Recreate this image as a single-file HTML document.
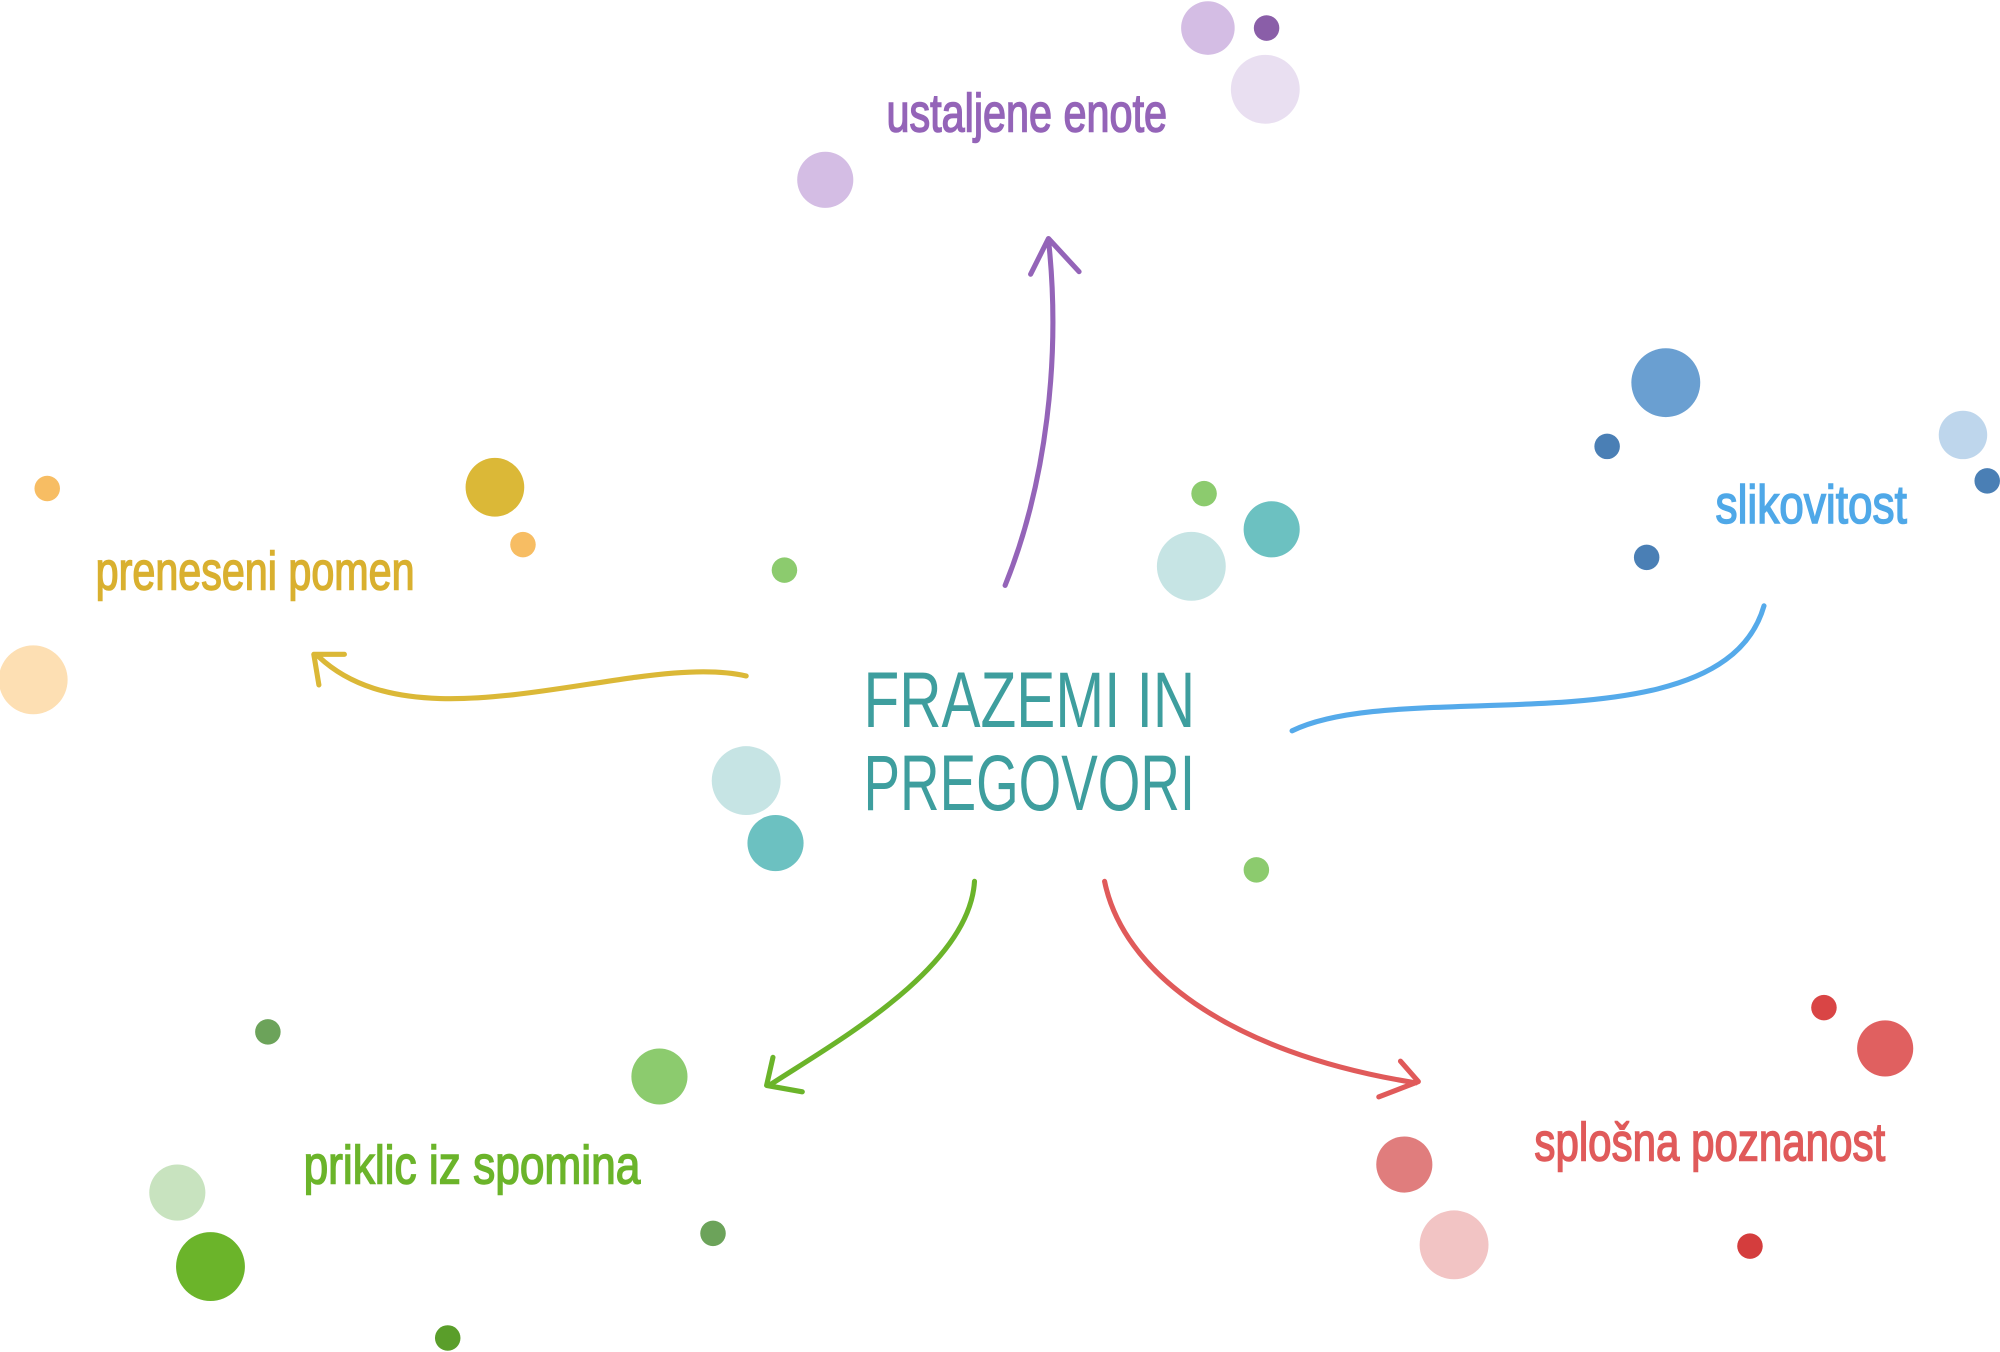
<!DOCTYPE html>
<html><head><meta charset="utf-8"><style>
html,body{margin:0;padding:0;background:#fff;}
svg{display:block;}
text{font-family:"Liberation Sans Narrow","Liberation Sans",sans-serif;}
.l{stroke-width:1.2;}
</style></head><body>
<svg width="2000" height="1352" viewBox="0 0 1568 1060" xmlns="http://www.w3.org/2000/svg">
<g>
<circle cx="947" cy="22" r="21" fill="#d4bde4"/>
<circle cx="993" cy="22" r="10" fill="#8a5ea8"/>
<circle cx="992" cy="70" r="27" fill="#e9dff1"/>
<circle cx="647" cy="141" r="22" fill="#d4bde4"/>
<circle cx="37" cy="383" r="10" fill="#f7bd63"/>
<circle cx="388" cy="382" r="23" fill="#dbb837"/>
<circle cx="410" cy="427" r="10" fill="#f7bd63"/>
<circle cx="26" cy="533" r="27" fill="#fddfb3"/>
<circle cx="615" cy="447" r="10" fill="#8ccb6e"/>
<circle cx="944" cy="387" r="10" fill="#8ccb6e"/>
<circle cx="985" cy="682" r="10" fill="#8ccb6e"/>
<circle cx="997" cy="415" r="22" fill="#6cc1c1"/>
<circle cx="934" cy="444" r="27" fill="#c6e4e4"/>
<circle cx="585" cy="612" r="27" fill="#c6e4e4"/>
<circle cx="608" cy="661" r="22" fill="#6cc1c1"/>
<circle cx="1306" cy="300" r="27" fill="#6a9fd1"/>
<circle cx="1260" cy="350" r="10" fill="#4a7fb5"/>
<circle cx="1539" cy="341" r="19" fill="#bed6ec"/>
<circle cx="1558" cy="377" r="10" fill="#4a7fb5"/>
<circle cx="1291" cy="437" r="10" fill="#4a7fb5"/>
<circle cx="210" cy="809" r="10" fill="#6ca35a"/>
<circle cx="517" cy="844" r="22" fill="#8ccb6e"/>
<circle cx="139" cy="935" r="22" fill="#c8e3bf"/>
<circle cx="165" cy="993" r="27" fill="#6bb42a"/>
<circle cx="559" cy="967" r="10" fill="#6ca35a"/>
<circle cx="351" cy="1049" r="10" fill="#5a9e2a"/>
<circle cx="1430" cy="790" r="10" fill="#d94545"/>
<circle cx="1478" cy="822" r="22" fill="#e06060"/>
<circle cx="1101" cy="913" r="22" fill="#e07d7d"/>
<circle cx="1140" cy="976" r="27" fill="#f2c4c4"/>
<circle cx="1372" cy="977" r="10" fill="#d43d3d"/>
</g>
<g fill="none" stroke-width="4" stroke-linecap="round" stroke-linejoin="round">
<path d="M788,459 C820,380 832,280 822,188 M808,215 L822,187 L846,213" stroke="#9464b8"/>
<path d="M585,530 C500,510 330,590 250,515 M250,537 L246,513 L270,513" stroke="#dbb837"/>
<path d="M1013,573 C1100,530 1350,590 1383,475" stroke="#55aaea"/>
<path d="M764,691 C760,760 650,820 603,851 M606,829 L601,851 L629,856" stroke="#6bb42a"/>
<path d="M866,691 C880,760 960,825 1110,849 M1098,832 L1112,848 L1081,860" stroke="#e05a5a"/>
</g>
<text class="l" x="695" y="103" font-size="42" fill="#9464b8" stroke="#9464b8" textLength="220" lengthAdjust="spacingAndGlyphs">ustaljene enote</text>
<text class="l" x="75" y="462" font-size="42" fill="#d9b02f" stroke="#d9b02f" textLength="250" lengthAdjust="spacingAndGlyphs">preneseni pomen</text>
<text class="l" x="1345" y="410" font-size="42" fill="#4fa8e8" stroke="#4fa8e8" textLength="150" lengthAdjust="spacingAndGlyphs">slikovitost</text>
<text class="l" x="238" y="928" font-size="42" fill="#6bb42a" stroke="#6bb42a" textLength="264" lengthAdjust="spacingAndGlyphs">priklic iz spomina</text>
<text class="l" x="1203" y="910" font-size="42" fill="#e05a5a" stroke="#e05a5a" textLength="275" lengthAdjust="spacingAndGlyphs">splošna poznanost</text>
<text x="677" y="570" font-size="62" fill="#3e9e9e" textLength="260" lengthAdjust="spacingAndGlyphs">FRAZEMI IN</text>
<text x="677" y="635" font-size="62" fill="#3e9e9e" textLength="260" lengthAdjust="spacingAndGlyphs">PREGOVORI</text>
</svg>
</body></html>
